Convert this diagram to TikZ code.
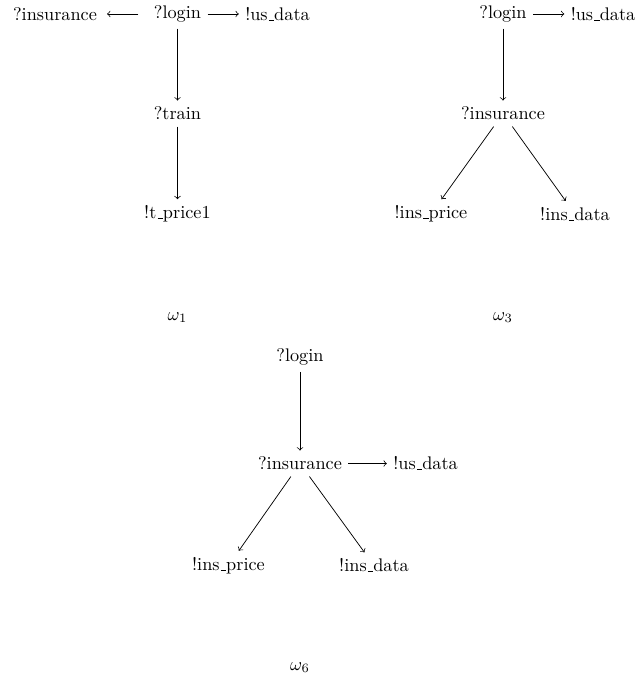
\documentclass[tikz,border=0pt]{standalone}
\usepackage{amsmath}
\newcommand{\ubar}{\leavevmode\kern.06em\vbox{\hrule width.3em}}

\begin{document}
\begin{tikzpicture}[arr/.style={->}]
                    \useasboundingbox (0,0) rectangle (12.30,-13.03);
                    % omega_1
                    \node (ins1) at (1.059,-0.269) {?insurance};
                    \node (login1) at (3.416,-0.269) {?login};
                    \node (usd1) at (5.341,-0.269) {!us\ubar data};
                    \node (train1) at (3.416,-2.185) {?train};
                    \node (tprice1) at (3.416,-4.119) {!t\ubar price1};
                    \node (om1) at (3.416,-6.111) {$\omega_1$};
                    \draw [arr, shorten <=5pt, shorten >=2pt] (login1) -- (ins1);
                    \draw [arr] (login1) -- (usd1);
                    \draw [arr] (login1) -- (train1);
                    \draw [arr] (train1) -- (tprice1);
                    % omega_3
                    \node (login3) at (9.681,-0.269) {?login};
                    \node (usd3) at (11.606,-0.269) {!us\ubar data};
                    \node (ins3) at (9.681,-2.185) {?insurance};
                    \node (iprice3) at (8.295,-4.119) {!ins\ubar price};
                    \node (idata3) at (11.067,-4.119) {!ins\ubar data};
                    \node (om3) at (9.681,-6.111) {$\omega_3$};
                    \draw [arr] (login3) -- (usd3);
                    \draw [arr] (login3) -- (ins3);
                    \draw [arr] (ins3) -- (iprice3);
                    \draw [arr] (ins3) -- (idata3);
                    % omega_6
                    \node (login6) at (5.774,-6.871) {?login};
                    \node (ins6) at (5.774,-8.921) {?insurance};
                    \node (usd6) at (8.190,-8.921) {!us\ubar data};
                    \node (iprice6) at (4.398,-10.884) {!ins\ubar price};
                    \node (idata6) at (7.198,-10.884) {!ins\ubar data};
                    \node (om6) at (5.774,-12.847) {$\omega_6$};
                    \draw [arr] (login6) -- (ins6);
                    \draw [arr] (ins6) -- (usd6);
                    \draw [arr] (ins6) -- (iprice6);
                    \draw [arr] (ins6) -- (idata6);
\end{tikzpicture}
\end{document}
